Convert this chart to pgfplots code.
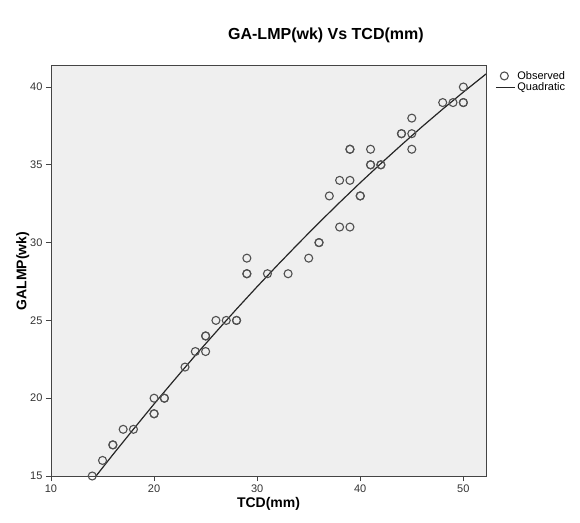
\documentclass[border=0pt]{standalone}
\usepackage{pgfplots}
\pgfplotsset{compat=1.18}
\usepackage{fontspec}
\setmainfont{Liberation Sans}
\definecolor{plotbg}{HTML}{EFEFEF}
\definecolor{framec}{HTML}{444444}
\definecolor{markc}{HTML}{505050}

\pgfplotstableread{
x y
14 15
15 16
16 17
16 17
17 18
18 18
20 20
20 19
20 19
21 20
21 20
23 22
24 23
25 24
25 24
25 23
26 25
27 25
28 25
28 25
29 29
29 28
29 28
31 28
33 28
35 29
36 30
36 30
37 33
38 34
38 31
39 36
39 36
39 34
39 31
40 33
40 33
41 36
41 35
41 35
42 35
42 35
44 37
44 37
45 38
45 37
45 36
48 39
49 39
50 40
50 39
50 39
}\observed

\pgfplotstableread{
x y
14 14.69
16 16.37
18 18.01
20 19.63
22 21.20
24 22.75
26 24.25
28 25.73
30 27.17
32 28.57
34 29.94
36 31.28
38 32.58
40 33.85
42 35.08
44 36.28
46 37.45
48 38.58
50 39.67
52 40.73
52.2 40.84
}\quadfit

\begin{document}
\begin{tikzpicture}[x=1pt,y=1pt]
\path[use as bounding box] (0,0) rectangle (580,522);
\begin{axis}[
  at={(51pt,46pt)}, anchor=south west,
  scale only axis, width=435pt, height=410pt,
  xmin=10, xmax=52.2, ymin=15, ymax=41.35,
  xtick={10,20,30,40,50}, ytick={15,20,25,30,35,40},
  tick align=outside, xtick pos=bottom, ytick pos=left,
  major tick length=5pt,
  tick style={framec, line width=0.8pt},
  axis line style={framec, line width=1pt},
  axis background/.style={fill=plotbg},
  ticklabel style={font=\fontsize{11}{13}\selectfont, text=black!80},
  /pgf/number format/assume math mode=true,
  xlabel={\textbf{TCD(mm)}},
  ylabel={\textbf{GALMP(wk)}},
  label style={font=\fontsize{14}{16}\selectfont},
  xlabel style={yshift=2pt},
  ylabel style={yshift=-6pt},
  title={\textbf{GA-LMP(wk) Vs TCD(mm)}},
  title style={font=\fontsize{16}{18}\selectfont, at={(0.632,1)}, yshift=14pt},
  legend style={at={(1,1)}, anchor=north west, xshift=6pt, yshift=-1pt,
    draw=none, fill=none, font=\fontsize{11}{13}\selectfont,
    row sep=-2pt, cells={anchor=west}},
  legend cell align=left,
  legend image post style={},
  clip=true,
]
\addplot[only marks, mark=o, mark size=4pt, draw=markc, line width=1.1pt,
  mark options={draw=markc}] table[x=x,y=y] {\observed};
\addlegendentry{Observed}
\addplot[black!85, line width=1.2pt, no marks,
  legend image code/.code={\draw[black!85, line width=1.2pt] (0pt,0pt) -- (19pt,0pt);}]
  table[x=x,y=y] {\quadfit};
\addlegendentry{Quadratic}
\end{axis}
\end{tikzpicture}
\end{document}
